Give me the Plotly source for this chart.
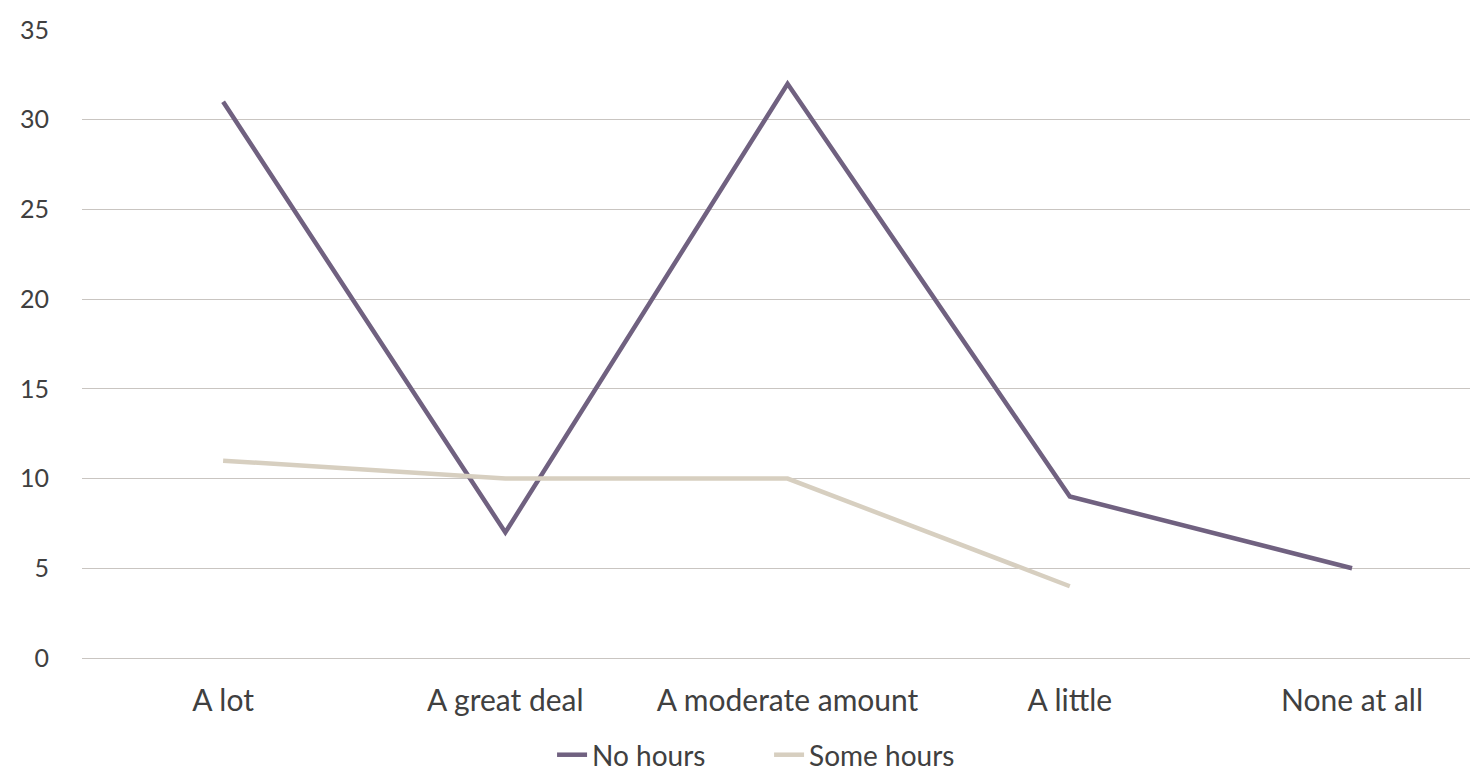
import plotly.graph_objects as go

categories = ["A lot", "A great deal", "A moderate amount", "A little", "None at all"]
no_hours = [31, 7, 32, 9, 5]
some_hours = [11, 10, 10, 4, None]
y_ticks = [0, 5, 10, 15, 20, 25, 30, 35]

font_family = "Lato, Open Sans, sans-serif"
text_color = "#404040"
grid_color = "#C9C5C1"

fig = go.Figure()
fig.add_trace(go.Scatter(
    x=list(range(len(categories))), y=no_hours, name="No hours",
    mode="lines", line=dict(color="#706180", width=4.5),
))
fig.add_trace(go.Scatter(
    x=list(range(len(categories))), y=some_hours, name="Some hours",
    mode="lines", line=dict(color="#D7CFC0", width=4.5), connectgaps=False,
))

fig.update_layout(
    width=1470, height=772,
    margin=dict(l=82, r=0, t=30, b=114, autoexpand=False),
    paper_bgcolor="white", plot_bgcolor="white",
    font=dict(family=font_family, size=28, color=text_color),
    showlegend=True,
    legend=dict(orientation="h", x=0.495, xanchor="center",
                yref="container", y=0.022, yanchor="middle",
                font=dict(size=28, color=text_color), entrywidth=172),
    xaxis=dict(
        range=[-0.5, 4.418],
        tickmode="array", tickvals=list(range(len(categories))), ticktext=categories,
        tickfont=dict(size=30),
        showgrid=False, zeroline=False, showline=False,
        ticks="outside", ticklen=16, tickcolor="rgba(0,0,0,0)",
    ),
    yaxis=dict(
        range=[0, 35], tickmode="array", tickvals=y_ticks,
        tickfont=dict(size=25),
        showgrid=True, gridcolor=grid_color, gridwidth=1.3,
        zeroline=True, zerolinecolor=grid_color, zerolinewidth=1.3,
        showline=False,
        ticks="outside", ticklen=27, tickcolor="rgba(0,0,0,0)",
    ),
)

fig.write_html("out.html")
